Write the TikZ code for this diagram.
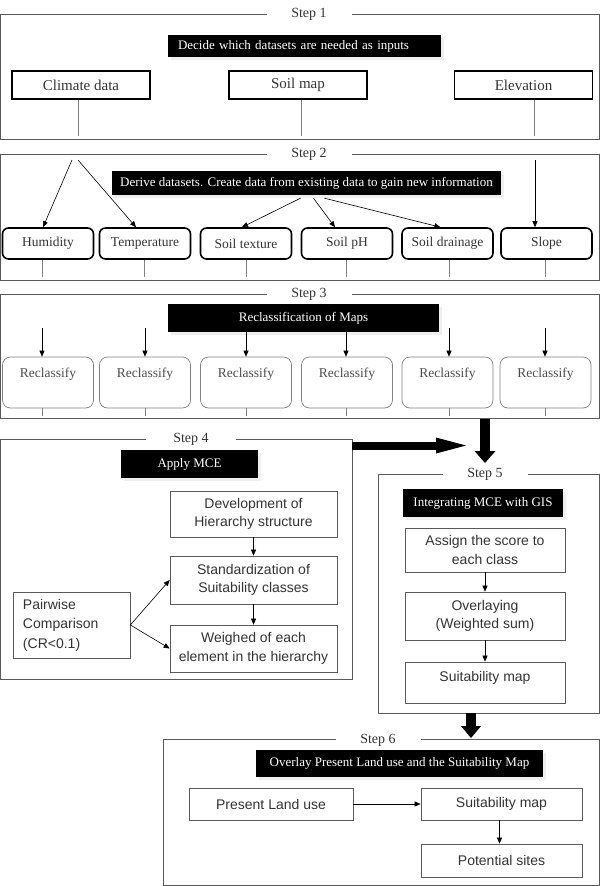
\documentclass[tikz,border=0pt]{standalone}
\usepackage{fontspec}
\setmainfont{Liberation Serif}
\setsansfont{Liberation Sans}
\usepackage{tikz}
\usetikzlibrary{arrows.meta}
\usetikzlibrary{shadows}
\definecolor{framegray}{HTML}{5A5A5A}
\definecolor{textgray}{HTML}{333333}

\begin{document}
\begin{tikzpicture}[x=1pt, y=-1pt,
  >={Triangle[length=6pt,width=5pt]},
  frame/.style={draw=framegray, line width=0.8pt},
  steplabel/.style={fill=white, text=textgray, font=\fontsize{14}{16}\selectfont, minimum width=85pt, inner ysep=2pt},
  blackbox/.style={fill=black, text=white, font=\fontsize{13}{15}\selectfont, inner sep=0pt,
    drop shadow={shadow xshift=3pt, shadow yshift=-3pt, fill=black!12}},
  inbox/.style={draw=black, line width=1.6pt, minimum width=138pt, minimum height=28pt, text=textgray, font=\fontsize{15}{17}\selectfont},
  derbox/.style={draw=black, line width=1.6pt, rounded corners=6pt, minimum width=91pt, minimum height=31pt, text=textgray, font=\fontsize{13.5}{16}\selectfont},
  rcbox/.style={draw=gray, line width=0.7pt, rounded corners=8pt, minimum width=91pt, inner ysep=0pt, text height=20pt, text depth=31pt, text=black!70, font=\fontsize{13.5}{16}\selectfont},
  sbox/.style={draw=framegray, line width=0.7pt, inner sep=0pt, align=center, text=textgray, font=\sffamily\fontsize{14}{18.5}\selectfont},
  link/.style={draw=gray, line width=0.6pt},
  arrow/.style={->, draw=black, line width=0.6pt}]

  \useasboundingbox (0,0) rectangle (600,886);

  \draw[frame] (0.5,14) rectangle (599.5,139);
  \node[steplabel] (step1) at (309,14) {Step 1};
  \node[blackbox, minimum width=273pt, minimum height=22pt, text width=253pt, align=left] (decide) at (304.5,46) {Decide which datasets are needed as inputs};
  \node[inbox] (climate) at (81,85) {Climate data};
  \node[inbox] (soilmap) at (298,85) {Soil map};
  \node[inbox] (elev) at (523.5,85) {Elevation};
  \coordinate (c1) at (78,136);
  \coordinate (c2) at (301,136);
  \coordinate (c3) at (534,136);
  \draw[link] (climate.south -| c1) -- (c1);
  \draw[link] (soilmap.south -| c2) -- (c2);
  \draw[link] (elev.south -| c3) -- (c3);

  \draw[frame] (0.5,154) rectangle (599.5,280);
  \node[steplabel] (step2) at (309,154) {Step 2};
  \node[blackbox, minimum width=389pt, minimum height=24pt] (derive) at (306.5,183) {Derive datasets. Create data from existing data to gain new information};
  \node[derbox] (hum) at (48,243.5) {Humidity};
  \node[derbox] (temp) at (145,243.5) {Temperature};
  \node[derbox] (texture) at (246,243.5) {Soil texture};
  \node[derbox] (ph) at (347,243.5) {Soil pH};
  \node[derbox] (drain) at (447.5,243.5) {Soil drainage};
  \node[derbox] (slope) at (546.5,243.5) {Slope};
  \coordinate (a1) at (72,160);
  \coordinate (a2) at (78,160);
  \coordinate (a3) at (535,160);
  \draw[arrow] (a1) -- ([xshift=-5pt]hum.north);
  \draw[arrow] (a2) -- ([xshift=-9pt]temp.north);
  \draw[arrow] ([xshift=-6pt,yshift=-3pt]derive.south) -- ([xshift=-4pt]texture.north);
  \draw[arrow] ([xshift=7pt,yshift=-3pt]derive.south) -- ([xshift=-12pt]ph.north);
  \draw[arrow] ([xshift=18pt,yshift=-3pt]derive.south) -- ([xshift=-7pt]drain.north);
  \draw[arrow] (a3) -- (a3 |- slope.north);
  \coordinate (d1) at (42,277);
  \coordinate (d2) at (144,277);
  \coordinate (d3) at (246,277);
  \coordinate (d4) at (346,277);
  \coordinate (d5) at (449,277);
  \coordinate (d6) at (545,277);
  \draw[link] (hum.south -| d1) -- (d1);
  \draw[link] (temp.south -| d2) -- (d2);
  \draw[link] (texture.south -| d3) -- (d3);
  \draw[link] (ph.south -| d4) -- (d4);
  \draw[link] (drain.south -| d5) -- (d5);
  \draw[link] (slope.south -| d6) -- (d6);

  \draw[frame] (0.5,294) rectangle (599.5,418);
  \node[steplabel] (step3) at (309,294) {Step 3};
  \node[blackbox, minimum width=271pt, minimum height=28pt] (reclass) at (303.5,318) {Reclassification of Maps};
  \node[rcbox] (rc1) at (48,382.5) {Reclassify};
  \node[rcbox] (rc2) at (145,382.5) {Reclassify};
  \node[rcbox] (rc3) at (246,382.5) {Reclassify};
  \node[rcbox] (rc4) at (347,382.5) {Reclassify};
  \node[rcbox] (rc5) at (447.5,382.5) {Reclassify};
  \node[rcbox] (rc6) at (545.5,382.5) {Reclassify};
  \coordinate (b1) at (42,328);
  \coordinate (b2) at (145,328);
  \coordinate (b3) at (246,328);
  \coordinate (b4) at (346,328);
  \coordinate (b5) at (449,328);
  \coordinate (b6) at (545,328);
  \draw[arrow] (b1) -- (b1 |- rc1.north);
  \draw[arrow] (b2) -- (b2 |- rc2.north);
  \draw[arrow] (b3) -- (b3 |- rc3.north);
  \draw[arrow] (b4) -- (b4 |- rc4.north);
  \draw[arrow] (b5) -- (b5 |- rc5.north);
  \draw[arrow] (b6) -- (b6 |- rc6.north);
  \coordinate (e1) at (42,416);
  \coordinate (e2) at (145,416);
  \coordinate (e3) at (246,416);
  \coordinate (e4) at (346,416);
  \coordinate (e5) at (449,416);
  \coordinate (e6) at (545,416);
  \draw[link] (rc1.south -| e1) -- (e1);
  \draw[link] (rc2.south -| e2) -- (e2);
  \draw[link] (rc3.south -| e3) -- (e3);
  \draw[link] (rc4.south -| e4) -- (e4);
  \draw[link] (rc5.south -| e5) -- (e5);
  \draw[link] (rc6.south -| e6) -- (e6);

  \draw[frame] (0.5,439) rectangle (352,679);
  \node[steplabel, minimum width=90pt] (step4) at (191,439) {Step 4};
  \node[blackbox, minimum width=137pt, minimum height=28pt] (mce) at (189.5,464) {Apply MCE};
  \node[sbox, minimum width=167pt, minimum height=46pt] (hier) at (253.5,514) {Development of\\Hierarchy structure};
  \node[sbox, minimum width=167pt, minimum height=48pt] (stand) at (253.5,580) {Standardization of\\Suitability classes};
  \node[sbox, minimum width=167pt, minimum height=47pt] (weigh) at (253.5,648.5) {Weighed of each\\element in the hierarchy};
  \node[sbox, minimum width=117pt, minimum height=66pt, text width=97pt, align=left, font=\sffamily\fontsize{14}{19.5}\selectfont] (pair) at (71.5,625) {Pairwise\\Comparison\\(CR<0.1)};
  \draw[arrow] (hier) -- (stand);
  \draw[arrow] (stand) -- (weigh);
  \draw[arrow] (pair.east) -- (stand.west);
  \draw[arrow] (pair.east) -- (weigh.west);

  \draw[frame] (378,474) rectangle (599.5,713);
  \node[steplabel] (step5) at (485,474) {Step 5};
  \node[blackbox, minimum width=160pt, minimum height=28pt] (gis) at (483,503) {Integrating MCE with GIS};
  \node[sbox, minimum width=160pt, minimum height=44pt] (score) at (485,550) {Assign the score to\\each class};
  \node[sbox, minimum width=160pt, minimum height=48pt] (overlay) at (485,616) {Overlaying\\(Weighted sum)};
  \node[sbox, minimum width=160pt, text height=19pt, text depth=22pt] (suit5) at (485,682.5) {Suitability map};
  \draw[arrow] (score) -- (overlay);
  \draw[arrow] (overlay) -- (suit5);

  \draw[frame] (163,739) rectangle (599.5,885);
  \node[steplabel] (step6) at (378,740) {Step 6};
  \node[blackbox, minimum width=287pt, minimum height=27pt] (present) at (399.5,763.5) {Overlay Present Land use and the Suitability Map};
  \node[sbox, minimum width=164pt, minimum height=32pt] (landuse) at (271,804) {Present Land use};
  \node[sbox, minimum width=161pt, minimum height=32pt] (suit6) at (501.5,804) {Suitability map};
  \node[sbox, minimum width=161pt, minimum height=33pt] (sites) at (501.5,860.5) {Potential sites};
  \draw[arrow] (landuse) -- (suit6);
  \draw[arrow] ([xshift=-2pt]suit6.south) -- ([xshift=-2pt]sites.north);

  \coordinate (s3out) at (485,419);
  \coordinate (s5in) at (485,463);
  \coordinate (s4out) at (352,445.5);
  \coordinate (s5left) at (466,445.5);
  \coordinate (s5out) at (471,713);
  \coordinate (s6in) at (471,738);
  \draw[line width=10pt, -{Triangle[length=12pt,width=21pt,line width=0pt]}] (s3out) -- (s5in);
  \draw[line width=8pt, -{Triangle[length=30pt,width=16pt,line width=0pt]}] (s4out) -- (s5left);
  \draw[line width=10pt, -{Triangle[length=12pt,width=20pt,line width=0pt]}] (s5out) -- (s6in);
\end{tikzpicture}
\end{document}
